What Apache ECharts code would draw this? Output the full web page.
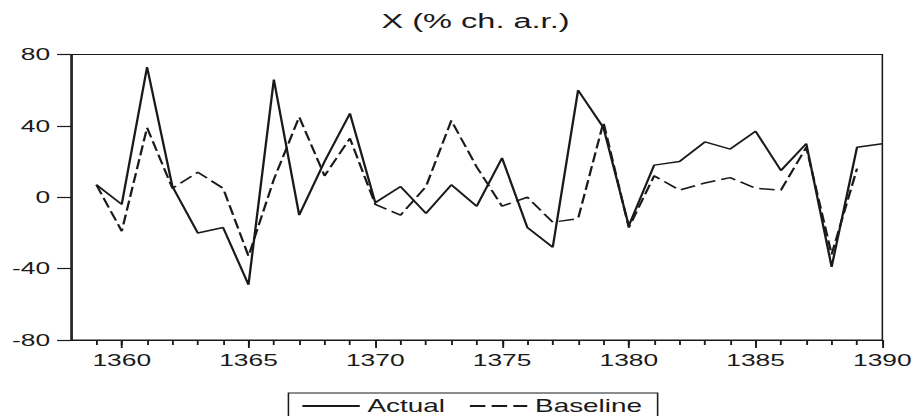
<!DOCTYPE html>
<html>
<head>
<meta charset="utf-8">
<script src="https://cdn.jsdelivr.net/npm/echarts@6/dist/echarts.min.js"></script>
<style>
html,body{margin:0;padding:0;background:#fff;}
#wrap{width:918px;height:416px;overflow:hidden;position:relative;}
#c{width:592px;height:416px;transform:scaleX(1.5507);transform-origin:0 0;}
</style>
</head>
<body>
<div id="wrap"><div id="c"></div></div>
<script>
// ---- data ----
const titleText = 'X (% ch. a.r.)';
const actualYears = [1359,1360,1361,1362,1363,1364,1365,1366,1367,1368,1369,1370,1371,1372,1373,1374,1375,1376,1377,1378,1379,1380,1381,1382,1383,1384,1385,1386,1387,1388,1389,1390];
const actualValues = [7,-4,73,6,-20,-17,-49,66,-10,20,47,-3,6,-9,7,-5,22,-17,-28,60,39,-16,18,20,31,27,37,15,30,-39,28,30];
const baselineYears = [1359,1360,1361,1362,1363,1364,1365,1366,1367,1368,1369,1370,1371,1372,1373,1374,1375,1376,1377,1378,1379,1380,1381,1382,1383,1384,1385,1386,1387,1388,1389];
const baselineValues = [7,-19,39,5,14,5,-33,10,45,12,33,-4,-10,6,43,17,-5,0,-14,-12,42,-17,12,4,8,11,5,4,28,-32,16];
const xTickLabels = [1360,1365,1370,1375,1380,1385,1390];
const xMinorTicks = [1359,1360,1361,1362,1363,1364,1365,1366,1367,1368,1369,1370,1371,1372,1373,1374,1375,1376,1377,1378,1379,1380,1381,1382,1383,1384,1385,1386,1387,1388,1389,1390];
const yTickLabels = [-80,-40,0,40,80];

const FONT = "'Liberation Sans', Arial, sans-serif";
const INK = '#1a1a1a';

const chart = echarts.init(document.getElementById('c'), null, { renderer: 'svg' });
chart.setOption({
  animation: false,
  backgroundColor: '#fff',
  title: {
    text: titleText,
    left: 246, top: 10, padding: 0,
    textStyle: { fontFamily: FONT, fontSize: 21, fontWeight: 'normal', color: INK }
  },
  legend: {
    top: 393, left: 186,
    padding: [4, 10, 8, 8],
    itemGap: 15,
    itemWidth: 37, itemHeight: 10,
    borderColor: INK, borderWidth: 1, borderRadius: 0,
    itemStyle: { color: 'rgba(0,0,0,0)', borderColor: 'rgba(0,0,0,0)', borderWidth: 0 },
    textStyle: { fontFamily: FONT, fontSize: 18, color: INK },
    data: ['Actual', 'Baseline']
  },
  grid: {
    left: 45.8, right: 23, top: 54.5, bottom: 76,
    show: true, borderColor: INK, borderWidth: 1, backgroundColor: 'transparent'
  },
  xAxis: [
    {
      type: 'value', min: 1358, max: 1390,
      splitLine: { show: false },
      axisLine: { show: true, onZero: false, lineStyle: { color: INK, width: 1 } },
      axisTick: { show: true, inside: false, length: 8, customValues: xTickLabels, lineStyle: { color: INK, width: 1.2 } },
      axisLabel: { show: true, customValues: xTickLabels, margin: 12, fontFamily: FONT, fontSize: 17, color: INK, formatter: v => String(v) }
    },
    {
      type: 'value', min: 1358, max: 1390, position: 'bottom',
      splitLine: { show: false },
      axisLine: { show: false, onZero: false },
      axisTick: { show: true, inside: false, length: 5, customValues: xMinorTicks, lineStyle: { color: INK, width: 1.2 } },
      axisLabel: { show: false }
    }
  ],
  yAxis: {
    type: 'value', min: yTickLabels[0], max: yTickLabels[yTickLabels.length - 1], interval: 40,
    splitLine: { show: false },
    axisLine: { show: true, onZero: false, lineStyle: { color: INK, width: 1 } },
    axisTick: { show: true, length: 9, lineStyle: { color: INK, width: 1.2 } },
    axisLabel: { show: true, margin: 13.5, fontFamily: FONT, fontSize: 17, color: INK }
  },
  series: [
    {
      name: 'Actual', type: 'line', xAxisIndex: 0,
      data: actualYears.map((y, i) => [y, actualValues[i]]),
      showSymbol: false, symbol: 'none',
      lineStyle: { color: INK, width: 1.5, type: 'solid' },
      itemStyle: { color: INK }
    },
    {
      name: 'Baseline', type: 'line', xAxisIndex: 0,
      data: baselineYears.map((y, i) => [y, baselineValues[i]]),
      showSymbol: false, symbol: 'none',
      lineStyle: { color: INK, width: 1.5, type: [10, 4] },
      itemStyle: { color: INK }
    }
  ]
});
</script>
</body>
</html>
